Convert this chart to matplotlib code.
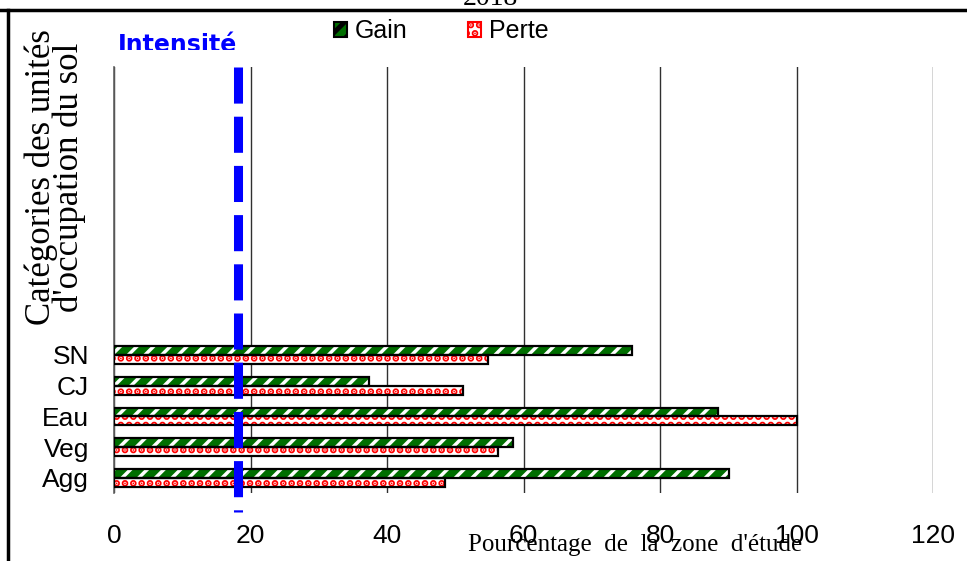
import numpy as np
import matplotlib.pyplot as plt
from matplotlib.patches import Patch, Rectangle
from matplotlib.lines import Line2D

# Data
categories = ["Agg", "Veg", "Eau", "CJ", "SN"]
gain = [90.1, 58.5, 88.5, 37.4, 75.9]
perte = [48.5, 56.2, 100.0, 51.1, 54.8]
intensite = 18.1
x_ticks = [0, 20, 40, 60, 80, 100, 120]

green = "#006e00"
red = "#ff0000"

fig = plt.figure(figsize=(9.67, 5.61), dpi=100)
ax = fig.add_axes([114 / 967, 1 - 493 / 561, (933 - 114) / 967, (493 - 67) / 561])

y = np.arange(len(categories))
h = 0.29

# Gain bars: green with white diagonal marks
plt.rcParams["hatch.linewidth"] = 2.5
ax.barh(y + h / 2, gain, height=h, color=green, hatch="//", edgecolor="white",
        linewidth=0, zorder=3)
ax.barh(y + h / 2, gain, height=h, fill=False, edgecolor="black", linewidth=1.6, zorder=4)
gain_handle = Patch(facecolor=green, edgecolor="black", hatch="//", label="Gain")

# Perte bars: white with red dotted pattern
plt.rcParams["hatch.linewidth"] = 3.5
ax.barh(y - h / 2, perte, height=h, color="white", hatch="..", edgecolor=red,
        linewidth=0, zorder=3)
ax.barh(y - h / 2, perte, height=h, fill=False, edgecolor="black", linewidth=1.6, zorder=4)
perte_handle = Patch(facecolor="white", edgecolor=red, hatch="..", label="Perte")

ax.set_xlim(0, 120)
ax.set_ylim(-0.49, 13.37)
ax.set_xticks(x_ticks)
ax.set_yticks(y)
ax.set_yticklabels(categories)

for lab in ax.get_xticklabels() + ax.get_yticklabels():
    lab.set_fontfamily("Liberation Sans")
    lab.set_fontsize(19)
ax.tick_params(axis="x", length=0, pad=22)
ax.tick_params(axis="y", length=0, pad=18)

ax.grid(axis="x", color="#303030", linewidth=1.0, zorder=1)
ax.set_axisbelow(True)
for side in ["top", "right", "bottom"]:
    ax.spines[side].set_visible(False)
ax.spines["left"].set_color("#606060")
ax.spines["left"].set_linewidth(1.2)

# Intensity line
ax.plot([intensite, intensite], [13.37, -1.1], color="#0000ff", linewidth=6.5,
        dashes=(4, 1.45), clip_on=False, zorder=5)

# Axis labels
fig.text(635 / 967, 1 - 545 / 561, "Pourcentage  de  la  zone  d'étude",
         family="Liberation Serif", fontsize=18, ha="center", va="center")
fig.text(55 / 967, 1 - 177 / 561, "Catégories des unités\nd'occupation du sol",
         family="Liberation Serif", fontsize=25, rotation=90, ha="center",
         va="center", multialignment="center", linespacing=0.8)

# "Intensité" label, cut at the bottom as in the original
fig.text(118 / 967, 1 - 52 / 561, "Intensité", color="#0000ff", fontsize=17,
         fontweight="bold", family="DejaVu Sans", ha="left", va="baseline")
fig.patches.append(Rectangle((110 / 967, 1 - 64 / 561), 125 / 967, 14 / 561,
                             transform=fig.transFigure, facecolor="white",
                             edgecolor="none", zorder=10))

# Title mostly cropped away at the top
fig.text(490 / 967, 1 - 5 / 561, "2018", family="Liberation Serif", fontsize=20,
         ha="center", va="baseline")

# Legend
leg = fig.legend(handles=[gain_handle, perte_handle], loc="center",
                 bbox_to_anchor=(441 / 967, 1 - 31 / 561),
                 ncol=2, frameon=False, handlelength=0.55, handleheight=0.55,
                 handletextpad=0.3, columnspacing=2.4,
                 prop={"family": "Liberation Sans", "size": 18})
for p in leg.get_patches():
    p.set_linewidth(1.5)

# Frame lines of the original picture
fig.add_artist(Line2D([0, 1], [1 - 9.5 / 561, 1 - 9.5 / 561], color="black",
                      linewidth=2.5, transform=fig.transFigure))
fig.add_artist(Line2D([7.5 / 967, 7.5 / 967], [0, 1 - 9.5 / 561], color="black",
                      linewidth=2.5, transform=fig.transFigure))

fig.savefig("out.png", dpi=100)
